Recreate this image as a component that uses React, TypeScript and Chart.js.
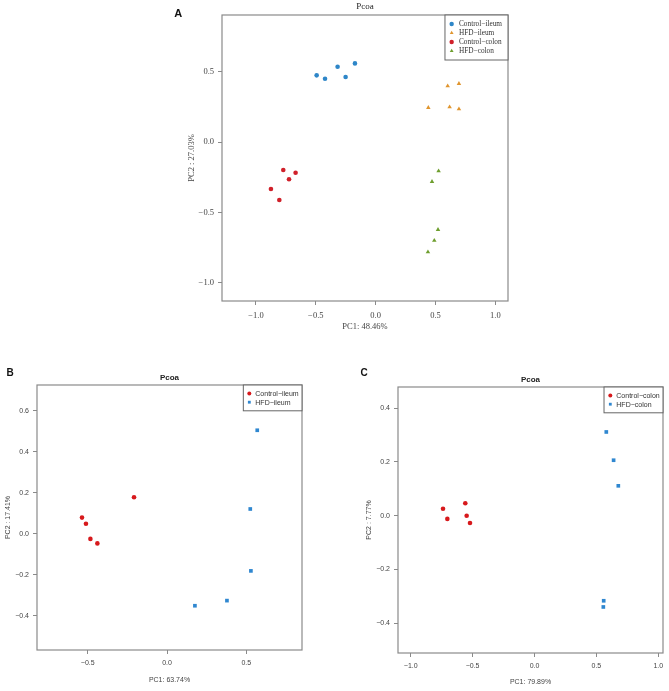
import React, { useEffect, useRef } from "react";
import { Chart, registerables } from "chart.js";
import { drawPoint } from "chart.js/helpers";

Chart.register(...registerables);

// ---------- Panel A data ----------
const A_labels = ["Control\u2212ileum", "HFD\u2212ileum", "Control\u2212colon", "HFD\u2212colon"];
const A_ctrlIleumX = [-0.493, -0.423, -0.318, -0.251, -0.173];
const A_ctrlIleumY = [0.474, 0.45, 0.535, 0.462, 0.559];
const A_hfdIleumX = [0.44, 0.602, 0.618, 0.696, 0.696];
const A_hfdIleumY = [0.245, 0.398, 0.249, 0.415, 0.235];
const A_ctrlColonX = [-0.772, -0.669, -0.724, -0.875, -0.805];
const A_ctrlColonY = [-0.198, -0.217, -0.264, -0.333, -0.411];
const A_hfdColonX = [0.526, 0.471, 0.521, 0.49, 0.437];
const A_hfdColonY = [-0.205, -0.281, -0.621, -0.699, -0.78];
const A_xTitle = "PC1: 48.46%";
const A_yTitle = "PC2 : 27.03%";

// ---------- Panel B data ----------
const B_labels = ["Control\u2212ileum", "HFD\u2212ileum"];
const B_ctrlX = [-0.536, -0.511, -0.483, -0.439, -0.208];
const B_ctrlY = [0.08, 0.05, -0.024, -0.046, 0.179];
const B_hfdX = [0.569, 0.525, 0.529, 0.378, 0.176];
const B_hfdY = [0.506, 0.122, -0.18, -0.325, -0.35];
const B_xTitle = "PC1: 63.74%";
const B_yTitle = "PC2 : 17.41%";

// ---------- Panel C data ----------
const C_labels = ["Control\u2212colon", "HFD\u2212colon"];
const C_ctrlX = [-0.739, -0.704, -0.559, -0.548, -0.521];
const C_ctrlY = [0.026, -0.012, 0.046, 0.0, -0.027];
const C_hfdX = [0.58, 0.639, 0.677, 0.559, 0.556];
const C_hfdY = [0.311, 0.206, 0.111, -0.316, -0.339];
const C_xTitle = "PC1: 79.89%";
const C_yTitle = "PC2 : 7.77%";

const PANEL_TITLE = "Pcoa";

const pts = (xs: number[], ys: number[]) => xs.map((x, i) => ({ x, y: ys[i] }));

const fmt = (v: any) => {
  const n = Number(v);
  const s = (Math.abs(n) < 1e-9 ? 0 : n).toFixed(1);
  return s.replace("-", "\u2212");
};

const SERIF = "'Liberation Serif', 'Times New Roman', serif";
const SANS = "'Liberation Sans', Arial, sans-serif";

function makeDecor(cfg: any) {
  return {
    id: "decor",
    beforeDatasetsDraw(chart: any) {
      const { ctx, chartArea } = chart;
      ctx.save();
      ctx.strokeStyle = "#8a8a8a";
      ctx.lineWidth = 1.2;
      ctx.strokeRect(chartArea.left, chartArea.top, chartArea.right - chartArea.left, chartArea.bottom - chartArea.top);
      ctx.restore();
    },
    afterDatasetsDraw(chart: any) {
      const { ctx, chartArea } = chart;
      const lg = cfg.legend;
      const ds = chart.data.datasets;
      ctx.save();
      ctx.font = `${lg.size}px ${cfg.family}`;
      const maxW = Math.max(...ds.map((d: any) => ctx.measureText(d.label).width));
      const boxW = lg.textOff + maxW + lg.padR;
      const boxH = ds.length * lg.rowH + lg.padV * 2;
      const left = chartArea.right - boxW;
      const top = chartArea.top;
      ctx.fillStyle = "#ffffff";
      ctx.fillRect(left, top, boxW, boxH);
      ctx.strokeStyle = "#666";
      ctx.lineWidth = 1;
      ctx.strokeRect(left, top, boxW, boxH);
      ds.forEach((d: any, i: number) => {
        const y = top + lg.padV + lg.rowH * (i + 0.5);
        ctx.fillStyle = d.backgroundColor;
        drawPoint(ctx, { pointStyle: d.pointStyle, radius: lg.markerR, rotation: 0, borderWidth: 0 } as any, left + lg.markerOff, y);
        ctx.fillStyle = "#333";
        ctx.textAlign = "left";
        ctx.textBaseline = "middle";
        ctx.fillText(d.label, left + lg.textOff, y + 0.5);
      });
      // panel letter
      ctx.fillStyle = "#111";
      ctx.font = `bold ${cfg.letterSize}px ${SANS}`;
      ctx.textAlign = "center";
      ctx.textBaseline = "middle";
      ctx.fillText(cfg.letter, cfg.letterX, cfg.letterY);
      ctx.restore();
    },
  };
}

function buildConfig(cfg: any): any {
  const tickFont = { family: cfg.family, size: cfg.tickSize };
  const axisTitleFont = { family: cfg.family, size: cfg.axisTitleSize, lineHeight: 1.2 };
  const grid = { drawOnChartArea: false, drawTicks: true, tickLength: 4, color: "#8a8a8a", lineWidth: 1 };
  return {
    type: "scatter",
    data: { datasets: cfg.datasets },
    options: {
      responsive: false,
      animation: false,
      events: [],
      layout: { padding: { left: 0, right: cfg.padRight, top: 0, bottom: 0 } },
      plugins: {
        legend: { display: false },
        tooltip: { enabled: false },
        title: {
          display: true,
          text: PANEL_TITLE,
          fullSize: false,
          color: "#222",
          font: { family: cfg.family, size: cfg.titleSize, weight: cfg.titleBold ? "bold" : "normal", lineHeight: 1.2 },
          padding: { top: cfg.titlePadTop, bottom: cfg.titlePadBottom },
        },
      },
      scales: {
        x: {
          type: "linear",
          position: "bottom",
          min: cfg.xMin,
          max: cfg.xMax,
          afterFit: (s: any) => {
            s.height = cfg.xAxisHeight;
          },
          ticks: {
            stepSize: cfg.xStep,
            includeBounds: false,
            autoSkip: false,
            maxRotation: 0,
            padding: cfg.tickPadX,
            color: "#444",
            font: tickFont,
            callback: fmt,
          },
          grid,
          border: { display: false },
          title: { display: true, text: cfg.xTitle, color: "#444", font: axisTitleFont, padding: { top: 0, bottom: cfg.xTitlePad } },
        },
        y: {
          type: "linear",
          position: "left",
          min: cfg.yMin,
          max: cfg.yMax,
          afterFit: (s: any) => {
            s.width = cfg.yAxisWidth;
          },
          ticks: {
            stepSize: cfg.yStep,
            includeBounds: false,
            autoSkip: false,
            padding: 4,
            color: "#444",
            font: tickFont,
            callback: fmt,
          },
          grid,
          border: { display: false },
          title: { display: true, text: cfg.yTitle, color: "#444", font: axisTitleFont, padding: { top: cfg.yTitlePad, bottom: 0 } },
        },
      },
    },
    plugins: [makeDecor(cfg)],
  };
}

const ds = (label: string, data: any[], color: string, style: string, r: number) => ({
  label,
  data,
  backgroundColor: color,
  borderColor: color,
  borderWidth: 0,
  pointStyle: style,
  pointRadius: r,
  showLine: false,
});

const panelA = {
  left: 150, top: 0, width: 380, height: 340,
  padRight: 22, yAxisWidth: 72, xAxisHeight: 39,
  xMin: -1.284, xMax: 1.106, yMin: -1.128, yMax: 0.9025, xStep: 0.5, yStep: 0.5,
  family: SERIF, tickSize: 8.5, titleSize: 9, titleBold: false, axisTitleSize: 8.5,
  titlePadTop: 1, titlePadBottom: 3.2,
  yTitlePad: 36.9, xTitlePad: 7.9, tickPadX: 6,
  xTitle: A_xTitle, yTitle: A_yTitle,
  letter: "A", letterX: 28.3, letterY: 14.2, letterSize: 11,
  legend: { size: 7.3, rowH: 9, padV: 4.5, markerOff: 6.7, textOff: 14, padR: 6, markerR: 2.2 },
  datasets: [
    ds(A_labels[0], pts(A_ctrlIleumX, A_ctrlIleumY), "#2e86c8", "circle", 2.3),
    ds(A_labels[1], pts(A_hfdIleumX, A_hfdIleumY), "#e0952e", "triangle", 2.6),
    ds(A_labels[2], pts(A_ctrlColonX, A_ctrlColonY), "#d0202a", "circle", 2.3),
    ds(A_labels[3], pts(A_hfdColonX, A_hfdColonY), "#6e9e2e", "triangle", 2.6),
  ],
};

const panelB = {
  left: 0, top: 340, width: 335, height: 351,
  padRight: 33, yAxisWidth: 37, xAxisHeight: 41,
  xMin: -0.8197, xMax: 0.8512, yMin: -0.5659, yMax: 0.7268, xStep: 0.5, yStep: 0.2,
  family: SANS, tickSize: 7, titleSize: 8, titleBold: true, axisTitleSize: 7,
  titlePadTop: 32.9, titlePadBottom: 2.5,
  yTitlePad: 3.8, xTitlePad: 6.8, tickPadX: 5,
  xTitle: B_xTitle, yTitle: B_yTitle,
  letter: "B", letterX: 10, letterY: 33, letterSize: 10,
  legend: { size: 7, rowH: 8.6, padV: 4.3, markerOff: 6, textOff: 12, padR: 3.3, markerR: 2 },
  datasets: [
    ds(B_labels[0], pts(B_ctrlX, B_ctrlY), "#d7191c", "circle", 2.3),
    ds(B_labels[1], pts(B_hfdX, B_hfdY), "#2f87d0", "rect", 2.6),
  ],
};

const panelC = {
  left: 335, top: 340, width: 334, height: 351,
  padRight: 6, yAxisWidth: 63, xAxisHeight: 38,
  xMin: -1.1026, xMax: 1.038, yMin: -0.51, yMax: 0.478, xStep: 0.5, yStep: 0.2,
  family: SANS, tickSize: 7, titleSize: 8, titleBold: true, axisTitleSize: 7,
  titlePadTop: 35.2, titlePadBottom: 2.2,
  yTitlePad: 29.8, xTitlePad: 5.1, tickPadX: 5,
  xTitle: C_xTitle, yTitle: C_yTitle,
  letter: "C", letterX: 29.2, letterY: 33.3, letterSize: 10,
  legend: { size: 7, rowH: 8.6, padV: 4.3, markerOff: 6.3, textOff: 12.3, padR: 3.3, markerR: 2 },
  datasets: [
    ds(C_labels[0], pts(C_ctrlX, C_ctrlY), "#d7191c", "circle", 2.3),
    ds(C_labels[1], pts(C_hfdX, C_hfdY), "#2f87d0", "rect", 2.6),
  ],
};

function Panel({ cfg }: { cfg: any }) {
  const ref = useRef<HTMLCanvasElement>(null);
  useEffect(() => {
    if (!ref.current) return;
    const chart = new Chart(ref.current, buildConfig(cfg));
    return () => chart.destroy();
  }, [cfg]);
  return (
    <canvas
      ref={ref}
      width={cfg.width}
      height={cfg.height}
      style={{ position: "absolute", left: cfg.left, top: cfg.top, width: cfg.width, height: cfg.height }}
    />
  );
}

export default function App() {
  return (
    <div style={{ position: "absolute", left: 0, top: 0, width: 669, height: 691, background: "#fff", overflow: "hidden" }}>
      <Panel cfg={panelA} />
      <Panel cfg={panelB} />
      <Panel cfg={panelC} />
    </div>
  );
}
